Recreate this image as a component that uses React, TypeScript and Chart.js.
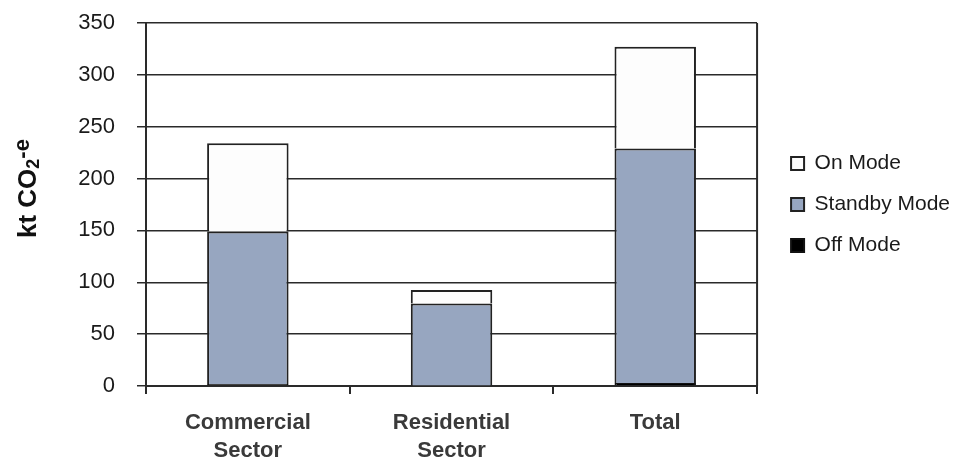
import React, { useEffect, useRef } from "react";
import { Chart, registerables } from "chart.js";

Chart.register(...registerables);

const categories: string[][] = [["Commercial", "Sector"], ["Residential", "Sector"], ["Total"]];
const offMode = [2, 0.5, 3];
const standbyMode = [147, 79, 226];
const onMode = [85, 13, 98];
const yTicks = [0, 50, 100, 150, 200, 250, 300, 350];
const yTitleParts = ["kt CO", "2", "-e"];

const FONT = "'Liberation Sans', Arial, Helvetica, sans-serif";
const LINE = "#2a2a2a";

export default function App() {
  const ref = useRef<HTMLCanvasElement | null>(null);

  useEffect(() => {
    if (!ref.current) return;
    const helperPlugin = {
      id: "helper",
      beforeDraw(chart: any) {
        const lg = chart.legend;
        const ca = chart.chartArea;
        if (lg) {
          const w = lg.width;
          lg.left = ca.right + 14;
          lg.right = lg.left + w;
          lg.top = ca.top;
          lg.bottom = ca.bottom;
          lg.height = ca.bottom - ca.top;
        }
      },
      beforeDatasetsDraw(chart: any) {
        const { ctx, chartArea } = chart;
        ctx.save();
        ctx.strokeStyle = LINE;
        ctx.lineWidth = 2;
        ctx.beginPath();
        ctx.moveTo(chartArea.right, chartArea.top);
        ctx.lineTo(chartArea.right, chartArea.bottom);
        ctx.stroke();
        ctx.restore();
      },
      afterDraw(chart: any) {
        const { ctx } = chart;
        ctx.save();
        ctx.translate(36, 238);
        ctx.rotate(-Math.PI / 2);
        ctx.fillStyle = "#111111";
        ctx.textBaseline = "alphabetic";
        ctx.textAlign = "left";
        let x = 0;
        ctx.font = `bold 26px ${FONT}`;
        ctx.fillText(yTitleParts[0], x, 0);
        x += ctx.measureText(yTitleParts[0]).width;
        ctx.font = `bold 18px ${FONT}`;
        ctx.fillText(yTitleParts[1], x, 3);
        x += ctx.measureText(yTitleParts[1]).width;
        ctx.font = `bold 22px ${FONT}`;
        ctx.fillText(yTitleParts[2], x, -7);
        ctx.restore();
      },
    };

    const chart = new Chart(ref.current, {
      type: "bar",
      data: {
        labels: categories,
        datasets: [
          {
            label: "Off Mode",
            data: offMode,
            backgroundColor: "#000000",
            borderColor: "#111111",
            borderWidth: 2,
          },
          {
            label: "Standby Mode",
            data: standbyMode,
            backgroundColor: "#97a6c0",
            borderColor: "#222222",
            borderWidth: 2,
          },
          {
            label: "On Mode",
            data: onMode,
            backgroundColor: "#fdfdfd",
            borderColor: "#222222",
            borderWidth: 2,
          },
        ],
      },
      options: {
        animation: false,
        responsive: true,
        maintainAspectRatio: false,
        layout: { padding: { top: 23, right: 12, bottom: 0, left: 0 } },
        datasets: { bar: { barPercentage: 0.4, categoryPercentage: 1 } },
        plugins: {
          tooltip: { enabled: false },
          legend: {
            position: "right",
            reverse: true,
            labels: {
              boxWidth: 13,
              boxHeight: 13,
              padding: 20,
              color: "#1a1a1a",
              font: { family: FONT, size: 21 },
            },
          },
        },
        scales: {
          x: {
            stacked: true,
            afterFit: (s: any) => {
              s.height = 75;
            },
            grid: {
              display: true,
              offset: true,
              drawOnChartArea: false,
              drawTicks: true,
              tickLength: 8,
              color: LINE,
              lineWidth: 2,
            },
            border: { display: true, color: LINE, width: 2 },
            ticks: {
              color: "#3a3a3a",
              padding: 15,
              font: { family: FONT, size: 22, weight: "bold", lineHeight: 1.27 },
              maxRotation: 0,
            },
          },
          y: {
            stacked: true,
            min: 0,
            max: 350,
            afterFit: (s: any) => {
              s.width = 146;
              s.paddingTop = 0;
              s.paddingBottom = 0;
            },
            afterBuildTicks: (s: any) => {
              s.ticks = yTicks.map((v) => ({ value: v }));
            },
            grid: {
              color: LINE,
              lineWidth: 1.5,
              drawTicks: true,
              tickLength: 9,
            },
            border: { display: true, color: LINE, width: 2 },
            ticks: {
              color: "#1a1a1a",
              padding: 22,
              font: { family: FONT, size: 22 },
            },
            title: { display: false },
          },
        },
      },
      plugins: [helperPlugin],
    });
    return () => chart.destroy();
  }, []);

  return (
    <div style={{ position: "absolute", left: 0, top: 0, width: 958, height: 461, background: "#ffffff" }}>
      <canvas ref={ref} />
    </div>
  );
}
